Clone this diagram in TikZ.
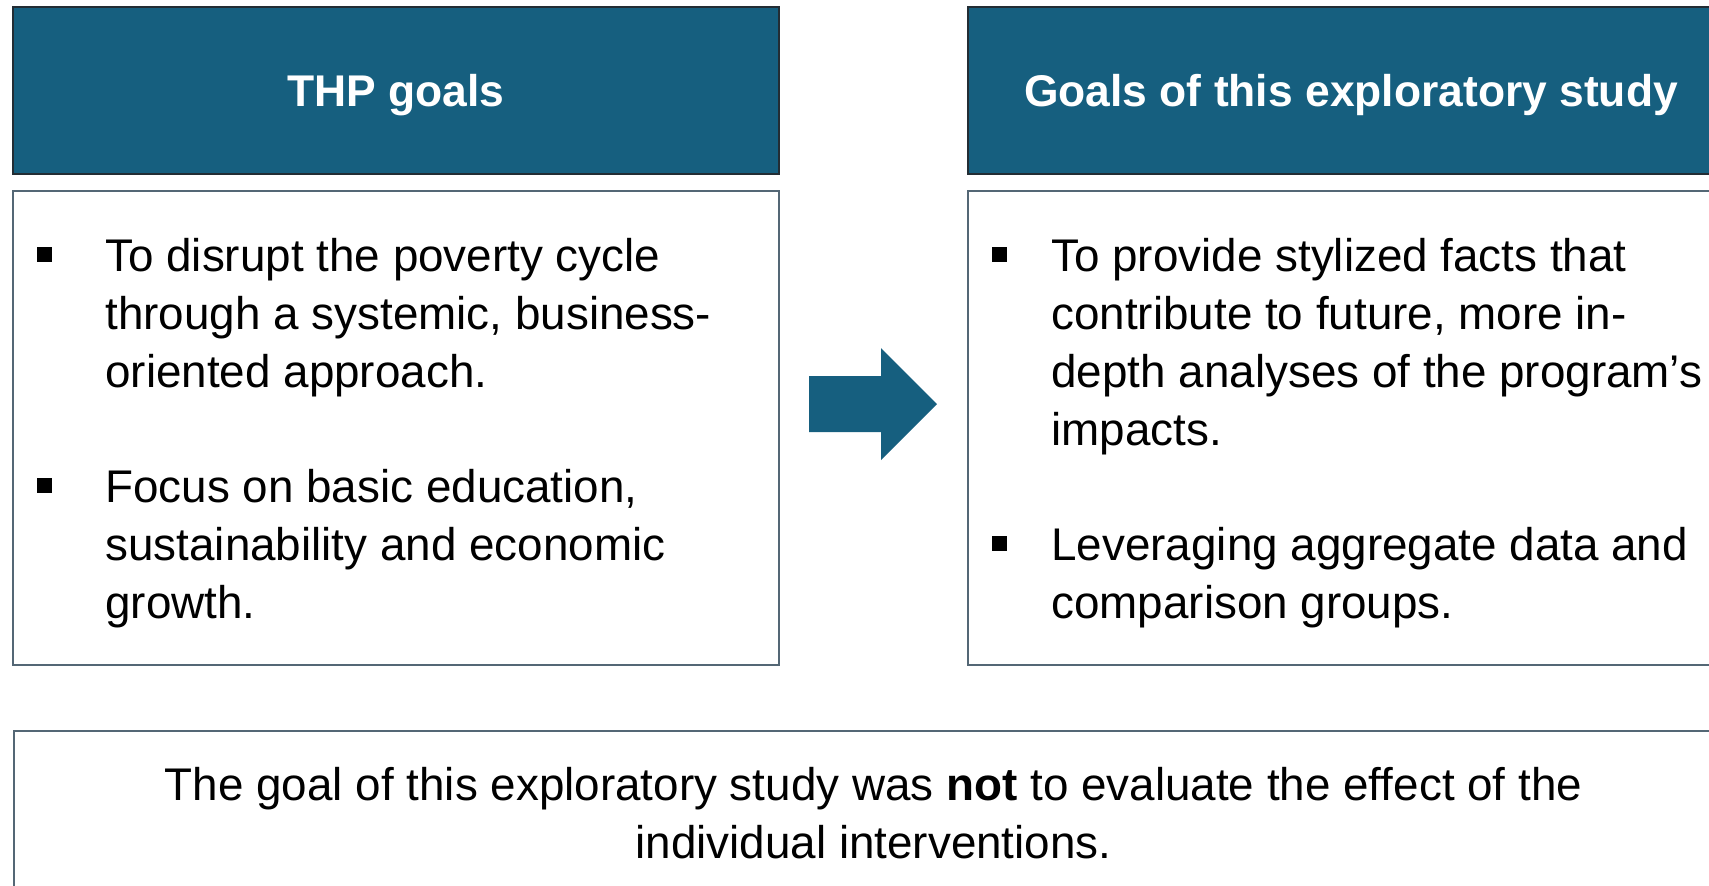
\documentclass[tikz,border=0pt]{standalone}
\usepackage{fontspec}
\setmainfont{Liberation Sans}
\usepackage{tikz}

\definecolor{thpblue}{RGB}{22,95,127}
\definecolor{headline}{RGB}{35,45,52}
\definecolor{boxline}{RGB}{84,103,117}

\begin{document}
\begin{tikzpicture}[x = 0.5pt,
                    y = -0.5pt,
                    headbox/.style  = {draw=headline, line width=0.75pt, fill=thpblue, text=white,
                                       font=\bfseries\fontsize{22.2}{26}\selectfont,
                                       minimum width=383pt, minimum height=83.5pt, inner sep=0pt,
                                       text height=15.9pt, text depth=0pt},
                    bodybox/.style  = {draw=boxline, line width=1pt, minimum width=383pt,
                                       minimum height=237pt, inner sep=0pt},
                    itemtext/.style = {anchor=base west, inner sep=0pt, align=left,
                                       font=\fontsize{22.9}{29}\selectfont},
                    bulletsq/.style = {fill=black, minimum size=7.5pt, inner sep=0pt}]

    \useasboundingbox (0,0) rectangle (1709,885);
    \clip (0,0) rectangle (1709,885);

    \node[headbox] (thpHead)   at (396,90.5)  {THP goals};
    \node[headbox] (studyHead) at (1351,90.5) {Goals of this exploratory study};

    \node[bodybox] (thpBody)   at (396,428)  {};
    \node[bodybox] (studyBody) at (1351,428) {};

    \node[bulletsq] (thpBulA) at (44,254) {};
    \node[bulletsq] (thpBulB) at (44,485) {};
    \node[itemtext] (thpItemA) at (105,387) {To disrupt the poverty cycle\\through a systemic, business-\\oriented approach.};
    \node[itemtext] (thpItemB) at (105,618) {Focus on basic education,\\sustainability and economic\\growth.};

    \node[bulletsq] (studyBulA) at (999,254) {};
    \node[bulletsq] (studyBulB) at (999,543) {};
    \node[itemtext] (studyItemA) at (1051,445) {To provide stylized facts that\\contribute to future, more in-\\depth analyses of the program’s\\impacts.};
    \node[itemtext] (studyItemB) at (1051,618) {Leveraging aggregate data and\\comparison groups.};

    \fill[thpblue] (809,376) -- (881,376) -- (881,348) -- (937,404)
                   -- (881,460) -- (881,432) -- (809,432) -- cycle;

    \node[draw=boxline, line width=1pt, minimum width=859.5pt, minimum height=102pt,
          inner sep=0pt] (noteBox) at (873.5,833) {};
    \node[anchor=base, inner sep=0pt, align=center, font=\fontsize{22.9}{29}\selectfont]
          (noteText) at (873.5,858)
          {The goal of this exploratory study was \textbf{not} to evaluate the effect of the\\individual interventions.};

\end{tikzpicture}
\end{document}
